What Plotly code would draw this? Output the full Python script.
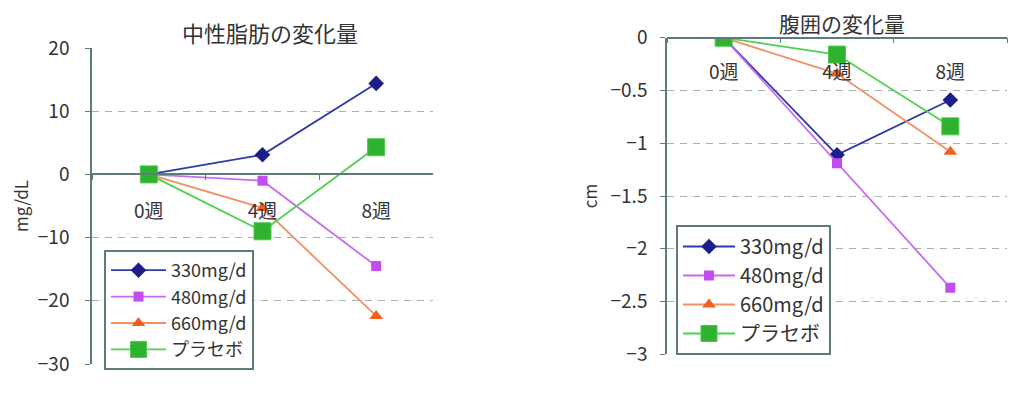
import plotly.graph_objects as go

weeks = ["0週", "4週", "8週"]
series_names = ["330mg/d", "480mg/d", "660mg/d", "プラセボ"]

tg_330 = [0, 3.1, 14.4]
tg_480 = [0, -1.0, -14.5]
tg_660 = [0, -5.3, -22.4]
tg_placebo = [0, -9.0, 4.3]

wc_330 = [0, -1.11, -0.59]
wc_480 = [0, -1.19, -2.37]
wc_660 = [0, -0.34, -1.08]
wc_placebo = [0, -0.16, -0.84]

left_title = "中性脂肪の変化量"
right_title = "腹囲の変化量"
left_ytitle = "mg/dL"
right_ytitle = "cm"

styles = [
    dict(line=dict(color="#2f3aa8", width=1.8), marker=dict(symbol="diamond", size=12, color="#1c1f8a")),
    dict(line=dict(color="#c66cf0", width=1.8), marker=dict(symbol="square", size=10, color="#c24cf2")),
    dict(line=dict(color="#f29060", width=1.8), marker=dict(symbol="triangle-up", size=12, color="#f0601e")),
    dict(line=dict(color="#4fd04f", width=1.8), marker=dict(symbol="square", size=17, color="#2fb22f",
                                                            line=dict(color="#4cc84c", width=1))),
]

FONT = "Noto Sans CJK JP"
AXC = "#5f7c7c"
GRIDC = "#a8b0b0"

# page body has an 8px margin; figure sized to fill the rest of the window
OFF = 8.0
FW, FH = 1016, 385


def px(x):
    return (x - OFF) / FW


def py(y):
    return (OFF + FH - y) / FH


fig = go.Figure()
left_data = [tg_330, tg_480, tg_660, tg_placebo]
right_data = [wc_330, wc_480, wc_660, wc_placebo]
for name, vals, st in zip(series_names, left_data, styles):
    fig.add_trace(go.Scatter(x=weeks, y=vals, name=name, mode="lines+markers",
                             xaxis="x", yaxis="y", legend="legend", **st))
for name, vals, st in zip(series_names, right_data, styles):
    fig.add_trace(go.Scatter(x=weeks, y=vals, name=name, mode="lines+markers",
                             xaxis="x2", yaxis="y2", legend="legend2", **st))

ly0, ly1 = py(364), py(48)
ry0, ry1 = py(354.3), py(37.7)
left_zero = ly0 + (0 - (-30)) / 50 * (ly1 - ly0)

common_x = dict(type="category", showline=True, linecolor=AXC, linewidth=1.5,
                ticks="outside", ticklen=5, tickcolor=AXC, tickson="boundaries",
                showgrid=False, zeroline=False, range=[-0.5, 2.5], automargin=False,
                tickfont=dict(family=FONT, size=19, color="#333"))
common_y = dict(showline=True, linecolor=AXC, linewidth=1.5, ticks="outside", ticklen=5,
                tickcolor=AXC, showgrid=True, gridcolor=GRIDC, griddash="7px,6px", gridwidth=1,
                zeroline=False, automargin=False, tickfont=dict(family=FONT, size=19, color="#333"))

legend_common = dict(xanchor="left", yanchor="top", bordercolor=AXC, borderwidth=2,
                     bgcolor="white", tracegroupgap=0)

fig.update_layout(
    width=FW, height=FH,
    margin=dict(l=0, r=0, t=0, b=0, autoexpand=False),
    paper_bgcolor="white", plot_bgcolor="white",
    font=dict(family=FONT, color="#333"),
    xaxis=dict(domain=[px(92), px(433)], anchor="free", position=left_zero,
               ticklabelstandoff=20, **common_x),
    yaxis=dict(domain=[ly0, ly1], anchor="x", range=[-30, 20], dtick=10, ticklabelstandoff=12,
               title=dict(text=left_ytitle, font=dict(family=FONT, size=17, color="#333"), standoff=9),
               **common_y),
    xaxis2=dict(domain=[px(667), px(1007)], anchor="free", position=ry1,
                ticklabelstandoff=18, **common_x),
    yaxis2=dict(domain=[ry0, ry1], anchor="x2", range=[-3, 0], dtick=0.5, ticklabelstandoff=9,
                title=dict(text=right_ytitle, font=dict(family=FONT, size=17, color="#333"), standoff=9),
                **common_y),
    legend=dict(x=px(104), y=py(250), itemwidth=55,
                font=dict(family=FONT, size=18, color="#333"), **legend_common),
    legend2=dict(x=px(676), y=py(225), itemwidth=52,
                 font=dict(family=FONT, size=20, color="#333"), **legend_common),
    annotations=[
        dict(text=left_title, x=px(270), y=py(32), xref="paper", yref="paper",
             xanchor="center", yanchor="middle",
             showarrow=False, font=dict(family=FONT, size=22, color="#333")),
        dict(text=right_title, x=px(842), y=py(23), xref="paper", yref="paper",
             xanchor="center", yanchor="middle",
             showarrow=False, font=dict(family=FONT, size=21, color="#333")),
    ],
)

fig.write_html("out.html")
